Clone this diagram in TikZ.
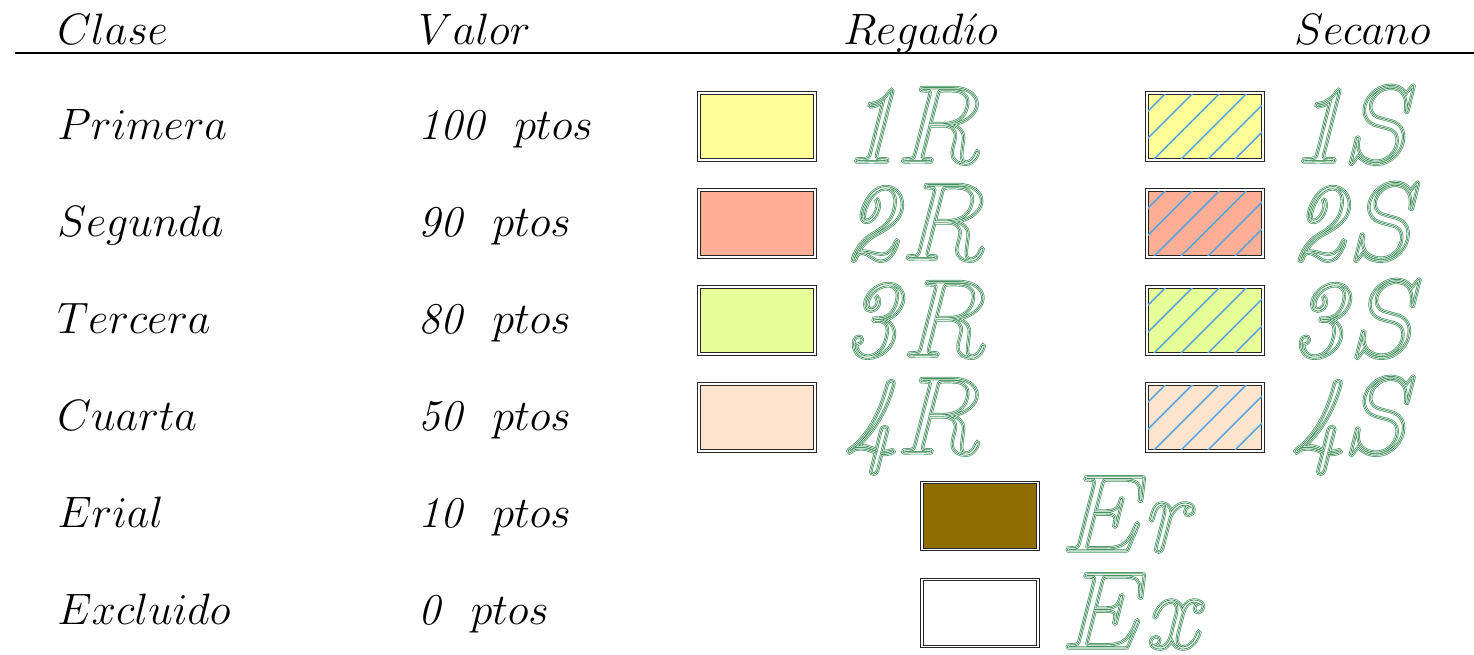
\RequirePackage{fix-cm}
\documentclass[tikz,border=0pt]{standalone}
\usepackage{xcolor}
\usetikzlibrary{calc}

\definecolor{primcol}{RGB}{255,255,153}
\definecolor{segcol}{RGB}{255,175,150}
\definecolor{tercol}{RGB}{230,255,153}
\definecolor{cuarcol}{RGB}{255,228,206}
\definecolor{erialcol}{RGB}{145,110,0}
\definecolor{rayacol}{RGB}{80,160,230}

% letras huecas en verde (contorno triple)
\newcommand\contorno[1]{%
\special{pdf:code 1 Tr 1.9 w 0.27 0.57 0.37 RG}\rlap{#1}%
\special{pdf:code 1.1 w 1 1 1 RG}\rlap{#1}%
\special{pdf:code 0.45 w 0.27 0.57 0.37 RG}#1%
\special{pdf:code 0 Tr}}

\tikzset{
  rotulo/.style={anchor=base west, inner sep=0pt, font=\fontsize{25}{30}\selectfont},
  letra/.style={anchor=base west, inner sep=0pt, font=\fontsize{62}{70}\selectfont},
  caja/.style={draw=black!85, double=white, double distance=0.9pt, line width=0.55pt,
    minimum width=2.32cm, minimum height=1.34cm, inner sep=0pt},
  raya/.style={rayacol, line width=0.8pt}
}

\begin{document}
\begin{tikzpicture}[x=0.02cm, y=-0.02cm]
\useasboundingbox (0,0) rectangle (1474,654);

%%%cabecera
\node[rotulo] (hclase) at (57,44) {$Clase$};
\node[rotulo] (hvalor) at (418,44) {$Valor$};
\node[rotulo] (hreg) at (843,44) {$Regad\acute{\imath}o$};
\node[rotulo, anchor=base east] (hsec) at (1431,44) {$Secano$};
\draw[semithick] (15,53) -- (1474,53);

%%%clases
\node[rotulo] (c1) at (57,139) {$Primera$};
\node[rotulo] (c2) at (57,236) {$Segunda$};
\node[rotulo] (c3) at (57,333) {$Tercera$};
\node[rotulo] (c4) at (57,430) {$Cuarta$};
\node[rotulo] (c5) at (57,527) {$Erial$};
\node[rotulo] (c6) at (57,624) {$Excluido$};

%%%valores
\node[rotulo] (v1) at (418,139) {\textit{100}$\hspace{0.65em}ptos$};
\node[rotulo] (v2) at (418,236) {\textit{90}$\hspace{0.65em}ptos$};
\node[rotulo] (v3) at (418,333) {\textit{80}$\hspace{0.65em}ptos$};
\node[rotulo] (v4) at (418,430) {\textit{50}$\hspace{0.65em}ptos$};
\node[rotulo] (v5) at (418,527) {\textit{10}$\hspace{0.65em}ptos$};
\node[rotulo] (v6) at (418,624) {\textit{0}$\hspace{0.65em}ptos$};

%%%regadio
\node[caja, fill=primcol] (r1) at (757,126.5) {};
\node[caja, fill=segcol] (r2) at (757,223.5) {};
\node[caja, fill=tercol] (r3) at (757,320.5) {};
\node[caja, fill=cuarcol] (r4) at (757,417.5) {};
\node[letra] (lr1) at (843,162) {\contorno{\textit{1}$R$}};
\node[letra] (lr2) at (843,259) {\contorno{\textit{2}$R$}};
\node[letra] (lr3) at (843,356) {\contorno{\textit{3}$R$}};
\node[letra] (lr4) at (843,453) {\contorno{\textit{4}$R$}};

%%%secano
\node[caja, fill=primcol] (s1) at (1205,126.5) {};
\node[caja, fill=segcol] (s2) at (1205,223.5) {};
\node[caja, fill=tercol] (s3) at (1205,320.5) {};
\node[caja, fill=cuarcol] (s4) at (1205,417.5) {};
\foreach \s in {s1,s2,s3,s4}{
  \begin{scope}
  \clip ([shift={(1.7,1.7)}]\s.north west) rectangle ([shift={(-1.7,-1.7)}]\s.south east);
  \foreach \i in {-102,-75,...,120}
    \draw[raya] ($(\s.south west)+(\i,0)$) -- ++(90,-90);
  \end{scope}
}
\node[letra] (ls1) at (1290,162) {\contorno{\textit{1}$S$}};
\node[letra] (ls2) at (1290,259) {\contorno{\textit{2}$S$}};
\node[letra] (ls3) at (1290,356) {\contorno{\textit{3}$S$}};
\node[letra] (ls4) at (1290,453) {\contorno{\textit{4}$S$}};

%%%erial y excluido
\node[caja, fill=erialcol] (er) at (980,516) {};
\node[caja, fill=white] (ex) at (980,613) {};
\node[letra] (ler) at (1062,551) {\contorno{$Er$}};
\node[letra] (lex) at (1062,648) {\contorno{$Ex$}};

\end{tikzpicture}
\end{document}
